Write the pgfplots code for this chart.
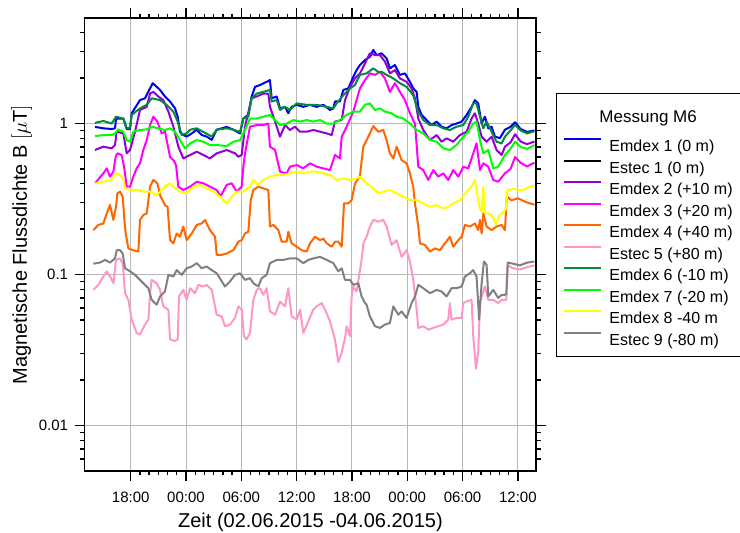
\documentclass[border=0pt]{standalone}
\usepackage{fontspec}
\setmainfont{Liberation Sans}
\usepackage{pgfplots}
\pgfplotsset{compat=1.18}
\usepackage{pgfplotstable}
\definecolor{cBlue}{RGB}{0,0,240}
\definecolor{cPurple}{RGB}{148,0,211}
\definecolor{cMagenta}{RGB}{255,0,255}
\definecolor{cOrange}{RGB}{255,102,0}
\definecolor{cPink}{RGB}{255,150,200}
\definecolor{cGreen}{RGB}{0,140,60}
\definecolor{cLime}{RGB}{0,255,0}
\definecolor{cYellow}{RGB}{255,255,0}
\definecolor{cGray}{RGB}{128,128,128}
\newcommand\ls{\rule{0pt}{16pt}}

\pgfplotstableread{
h v
14.13 0.95
15.04 0.93
15.94 0.92
16.30 0.93
16.41 1.08
17.20 1.08
17.57 0.92
17.93 0.92
18.11 1.17
19.01 1.43
19.55 1.47
20.10 1.71
20.39 1.85
20.82 1.75
21.18 1.67
21.72 1.51
22.27 1.40
22.81 1.26
23.10 1.11
23.35 0.88
23.71 0.84
24.07 0.82
24.62 0.86
25.16 0.91
25.70 0.84
26.24 0.82
26.79 0.78
27.33 0.91
28.41 0.95
29.14 0.91
29.86 0.86
30.22 1.08
30.76 1.14
31.12 1.51
31.49 1.75
32.03 1.80
32.75 1.89
33.11 1.94
33.29 1.47
33.84 1.51
34.20 1.26
34.74 1.29
35.10 1.17
35.46 1.29
36.01 1.33
36.73 1.29
37.45 1.33
38.17 1.29
38.90 1.33
39.62 1.23
39.98 1.26
40.16 1.40
40.70 1.40
41.07 1.67
41.61 1.71
42.15 2.04
42.51 2.26
42.87 2.44
43.41 2.63
43.95 2.77
44.32 3.07
44.68 2.84
45.22 2.92
45.76 2.70
46.12 2.32
46.67 2.44
47.21 2.10
47.75 2.15
48.29 1.89
48.65 1.71
49.02 1.62
49.20 1.29
49.56 1.14
50.10 1.055
50.64 0.977
51.19 1.03
51.73 0.953
52.27 0.929
52.81 0.977
53.35 1.00
53.90 1.03
54.44 1.14
54.98 1.29
55.34 1.43
55.70 1.36
56.07 1.00
56.43 1.11
56.79 0.929
57.15 0.953
57.51 0.82
58.05 0.80
58.60 0.91
59.20 0.95
59.70 1.02
60.30 0.92
61.00 0.88
61.80 0.90
}\tBlue

\pgfplotstableread{
h v
14.13 1.01
15.04 1.04
15.94 1.00
16.41 1.11
17.20 1.08
17.57 0.93
17.93 0.94
18.11 1.14
19.01 1.26
19.74 1.33
20.28 1.47
21.18 1.43
21.90 1.33
22.63 1.20
23.10 1.03
23.53 0.84
24.07 0.86
24.44 0.91
25.16 0.93
25.88 0.88
26.79 0.82
27.33 0.91
28.41 0.93
29.14 0.91
29.86 0.88
30.22 1.08
30.76 1.11
31.12 1.47
31.67 1.58
32.39 1.62
33.11 1.67
33.29 1.40
33.84 1.43
34.20 1.23
34.74 1.29
35.28 1.23
36.01 1.36
37.09 1.33
38.17 1.33
39.26 1.29
39.98 1.26
40.34 1.36
41.07 1.54
41.79 1.71
42.33 1.80
42.87 2.10
43.59 2.15
44.32 2.32
44.86 2.20
45.22 2.20
45.76 2.10
46.49 1.99
47.21 1.85
47.93 1.75
48.65 1.54
49.20 1.20
49.74 1.055
50.46 0.977
51.19 0.977
51.91 0.929
52.63 0.906
53.35 0.953
54.08 0.977
54.62 1.11
55.16 1.36
55.52 1.36
55.89 1.11
56.25 0.929
56.61 1.03
57.15 0.883
57.69 0.758
58.24 0.739
58.60 0.818
59.20 0.90
59.70 0.98
60.30 0.90
61.00 0.86
61.80 0.89
}\tGreen

\pgfplotstableread{
h v
14.13 0.668
15.04 0.703
15.94 0.685
16.30 0.721
16.48 0.883
17.20 0.861
17.57 0.635
17.93 0.668
18.47 0.883
19.01 1.23
19.74 1.29
20.10 1.58
20.46 1.62
21.00 1.51
21.54 1.43
22.09 1.20
22.63 0.953
23.17 0.703
23.71 0.588
24.44 0.619
25.16 0.651
25.88 0.619
26.60 0.588
27.33 0.635
28.41 0.668
29.32 0.635
29.68 0.603
30.04 0.619
30.40 0.953
31.12 1.47
31.67 1.51
32.39 1.58
32.93 1.58
33.11 1.29
33.66 1.03
34.20 0.818
34.74 0.977
35.28 0.906
35.82 0.953
36.37 0.883
37.09 0.883
37.81 0.906
38.54 0.883
39.26 0.861
39.80 0.839
40.16 1.03
40.89 1.055
41.25 1.43
41.79 1.75
42.33 1.99
42.87 2.15
43.41 2.50
43.95 2.92
44.50 2.84
45.04 2.84
45.58 2.57
46.12 2.15
46.67 2.26
47.21 1.99
47.93 1.89
48.47 1.71
48.84 1.47
49.20 1.08
49.74 0.906
50.46 0.778
51.19 0.839
51.73 0.758
52.27 0.798
52.99 0.758
53.72 0.839
54.44 0.883
54.98 1.08
55.34 1.17
55.70 1.00
56.07 0.818
56.61 0.758
57.15 0.818
57.69 0.668
58.24 0.619
58.60 0.703
59.20 0.75
59.70 0.85
60.30 0.76
61.00 0.73
61.80 0.76
}\tPurple

\pgfplotstableread{
h v
14.13 0.826
15.04 0.839
15.94 0.839
16.30 0.861
16.66 0.915
17.20 0.883
17.57 0.778
17.93 0.758
18.29 0.883
19.01 0.906
19.74 0.915
20.28 0.953
21.00 0.929
21.72 0.906
22.27 0.929
22.81 0.883
23.35 0.778
23.89 0.685
24.44 0.739
25.16 0.778
25.88 0.758
26.60 0.721
27.33 0.721
28.41 0.71
29.14 0.758
29.86 0.778
30.40 0.906
30.94 1.08
31.67 1.08
32.39 1.11
33.11 1.14
33.66 1.055
34.20 0.977
34.92 1.00
35.64 1.055
36.37 1.03
37.09 1.055
37.81 1.03
38.54 1.055
39.26 1.00
39.98 1.00
40.70 1.055
41.43 1.14
42.15 1.20
42.87 1.20
43.41 1.33
43.95 1.36
44.50 1.23
45.04 1.26
45.58 1.20
46.30 1.17
46.85 1.11
47.57 1.08
48.29 1.00
49.02 0.906
49.74 0.861
50.46 0.778
51.19 0.758
51.91 0.685
52.63 0.668
53.35 0.721
54.08 0.818
54.62 0.883
55.16 1.00
55.52 1.03
55.89 0.778
56.25 0.635
56.79 0.668
57.33 0.505
57.87 0.518
58.60 0.619
59.20 0.68
59.70 0.76
60.30 0.70
61.00 0.68
61.80 0.72
}\tLime

\pgfplotstableread{
h v
14.13 0.402
15.04 0.468
15.40 0.505
15.76 0.445
16.12 0.48
16.37 0.603
16.55 0.635
17.02 0.619
17.28 0.518
17.57 0.382
17.93 0.382
18.29 0.445
18.65 0.505
19.01 0.545
19.37 0.668
19.74 0.778
20.10 0.977
20.46 1.11
20.89 1.03
21.36 0.861
21.72 0.883
22.27 0.603
22.63 0.573
22.92 0.531
23.17 0.382
23.71 0.363
24.44 0.382
25.16 0.412
25.88 0.402
26.60 0.382
27.33 0.363
27.75 0.33
28.41 0.392
28.96 0.402
29.50 0.354
30.04 0.382
30.22 0.518
30.40 0.635
30.94 0.953
31.67 0.977
32.39 0.977
32.93 1.00
33.11 0.703
33.66 0.668
34.20 0.48
34.92 0.468
35.28 0.518
36.01 0.531
36.73 0.505
37.45 0.545
38.17 0.518
38.90 0.505
39.62 0.492
40.16 0.619
40.70 0.588
40.89 0.818
41.43 0.953
42.15 1.20
42.87 1.71
43.41 1.94
43.95 2.15
44.50 2.10
45.04 2.20
45.58 1.99
46.12 1.62
46.67 1.85
47.21 1.62
47.75 1.43
48.29 1.17
48.84 1.00
49.20 0.518
49.74 0.492
50.28 0.423
50.82 0.492
51.37 0.445
51.91 0.468
52.45 0.423
52.99 0.492
53.54 0.445
54.08 0.518
54.62 0.505
55.16 0.635
55.52 0.739
55.89 0.492
56.25 0.545
56.79 0.518
57.33 0.423
57.87 0.412
58.60 0.468
59.20 0.50
59.70 0.60
60.30 0.55
61.00 0.52
61.80 0.55
}\tMagenta

\pgfplotstableread{
h v
14.13 0.402
15.04 0.412
15.94 0.423
16.37 0.468
16.84 0.456
17.20 0.423
17.39 0.372
17.93 0.363
18.65 0.363
19.37 0.354
20.10 0.354
20.82 0.336
21.36 0.363
21.90 0.392
22.27 0.402
22.63 0.382
23.35 0.354
24.07 0.345
24.80 0.382
25.52 0.392
26.24 0.372
26.97 0.354
27.69 0.328
28.41 0.296
28.96 0.328
29.50 0.354
30.22 0.354
30.94 0.382
31.31 0.423
31.85 0.392
32.39 0.423
33.11 0.445
33.84 0.456
34.56 0.456
35.28 0.468
36.01 0.48
36.73 0.468
37.45 0.48
38.17 0.48
38.90 0.468
39.62 0.456
40.34 0.423
41.07 0.434
41.79 0.423
42.51 0.434
42.87 0.445
43.59 0.402
44.32 0.372
44.86 0.345
45.40 0.354
46.12 0.363
46.85 0.345
47.57 0.328
48.29 0.311
49.02 0.311
49.74 0.296
50.46 0.281
51.19 0.288
51.91 0.274
52.45 0.281
52.99 0.296
53.72 0.311
54.44 0.354
54.98 0.382
55.34 0.423
55.70 0.311
55.89 0.27
56.07 0.26
56.25 0.38
56.43 0.254
56.79 0.254
57.33 0.24
57.60 0.215
58.05 0.25
58.45 0.26
58.70 0.27
58.85 0.36
59.50 0.37
60.50 0.36
61.20 0.38
61.80 0.39
}\tYellow

\pgfplotstableread{
h v
13.95 0.197
14.49 0.213
15.04 0.218
15.40 0.254
15.76 0.289
16.12 0.230
16.41 0.281
16.55 0.345
16.84 0.354
17.13 0.328
17.32 0.23
17.46 0.187
17.75 0.149
18.29 0.145
18.83 0.142
19.01 0.230
19.37 0.248
19.74 0.254
20.10 0.382
20.46 0.423
20.89 0.402
21.18 0.336
21.72 0.288
22.00 0.281
22.27 0.169
22.63 0.161
22.99 0.187
23.35 0.178
23.71 0.208
24.07 0.169
24.62 0.187
25.16 0.213
25.70 0.218
26.06 0.230
26.60 0.197
27.15 0.178
27.33 0.135
27.87 0.135
28.41 0.138
29.14 0.145
29.68 0.165
30.04 0.169
30.40 0.187
30.76 0.192
31.02 0.311
31.31 0.363
31.85 0.382
32.39 0.372
32.93 0.363
33.11 0.208
33.48 0.213
34.02 0.197
34.38 0.165
34.92 0.165
35.10 0.192
35.46 0.161
36.01 0.153
36.55 0.145
37.09 0.142
37.45 0.161
37.99 0.178
38.54 0.169
38.90 0.173
39.26 0.161
39.80 0.153
40.16 0.165
40.52 0.165
40.89 0.153
41.14 0.296
41.61 0.296
41.97 0.311
42.33 0.40
42.87 0.45
43.23 0.70
43.77 0.818
44.32 0.962
44.86 0.883
45.40 0.906
45.76 0.778
46.12 0.635
46.49 0.588
46.85 0.703
47.39 0.573
47.93 0.545
48.29 0.468
48.65 0.382
48.84 0.296
49.20 0.208
49.38 0.161
49.92 0.157
50.46 0.142
51.00 0.149
51.55 0.145
52.09 0.161
52.63 0.178
52.99 0.153
53.54 0.169
53.90 0.178
54.26 0.213
54.80 0.208
55.34 0.218
55.70 0.197
55.89 0.23
56.07 0.187
56.25 0.254
56.61 0.208
57.15 0.197
57.69 0.208
58.24 0.213
58.60 0.197
58.80 0.33
59.30 0.31
60.00 0.32
61.00 0.30
61.80 0.29
}\tOrange

\pgfplotstableread{
h v
13.95 0.118
14.67 0.12
15.22 0.125
15.76 0.12
16.30 0.128
16.48 0.145
16.84 0.145
17.13 0.138
17.39 0.110
17.93 0.105
18.47 0.0995
19.01 0.0922
19.55 0.0854
19.92 0.0812
20.28 0.068
20.82 0.0631
21.18 0.0716
21.72 0.0772
22.09 0.0995
22.63 0.0971
22.99 0.107
23.53 0.0995
24.07 0.110
24.62 0.113
25.16 0.119
25.70 0.110
26.24 0.113
26.79 0.107
27.33 0.102
28.23 0.0833
28.77 0.090
29.32 0.0995
29.86 0.102
30.40 0.0922
30.94 0.0946
31.31 0.0876
31.85 0.0833
32.21 0.0946
32.75 0.0995
33.11 0.119
33.84 0.125
34.56 0.125
35.28 0.128
36.01 0.128
36.73 0.119
37.27 0.125
37.81 0.128
38.54 0.131
39.26 0.125
39.98 0.119
40.52 0.105
40.89 0.110
41.25 0.0922
41.79 0.0922
42.15 0.0854
42.69 0.0876
43.05 0.0716
43.42 0.0647
43.59 0.0631
43.95 0.0529
44.50 0.0455
45.04 0.0443
45.58 0.0466
46.12 0.0478
46.49 0.0615
47.03 0.0542
47.39 0.057
47.93 0.0516
48.47 0.0647
48.84 0.0716
49.20 0.0854
49.74 0.0812
50.46 0.0753
51.19 0.0792
51.73 0.0772
52.27 0.0716
52.81 0.0812
53.35 0.0812
53.90 0.0833
54.26 0.0971
54.80 0.102
55.16 0.107
55.52 0.0971
55.80 0.0503
56.07 0.0876
56.32 0.122
56.61 0.116
56.79 0.0716
57.33 0.0792
57.87 0.07
58.24 0.0734
58.60 0.0734
58.75 0.075
58.90 0.12
59.50 0.118
60.20 0.115
61.00 0.12
61.80 0.122
}\tGray

\pgfplotstableread{
h v
13.95 0.0792
14.49 0.0854
15.04 0.0971
15.40 0.105
15.76 0.0971
16.12 0.0876
16.41 0.125
16.84 0.128
17.13 0.119
17.39 0.0753
17.75 0.068
18.11 0.0503
18.65 0.0411
19.01 0.0401
19.55 0.0466
19.92 0.0503
20.10 0.0753
20.28 0.0922
20.82 0.0876
21.18 0.0792
21.54 0.0615
22.09 0.0585
22.27 0.0372
22.81 0.0363
23.10 0.0372
23.24 0.0716
23.71 0.0792
24.07 0.068
24.44 0.0812
24.98 0.0753
25.34 0.0854
25.88 0.0833
26.24 0.0854
26.79 0.0792
27.33 0.0542
27.87 0.0529
28.23 0.0455
28.77 0.0466
29.32 0.0516
29.68 0.0615
30.04 0.0585
30.29 0.0391
30.58 0.0372
30.94 0.0411
31.31 0.068
31.67 0.0792
32.03 0.0812
32.39 0.0734
32.75 0.0812
33.11 0.057
33.66 0.0542
34.20 0.0663
34.74 0.0615
35.10 0.0812
35.46 0.0529
36.01 0.0503
36.37 0.0585
36.73 0.0411
37.27 0.049
37.81 0.0585
38.17 0.0615
38.72 0.0647
39.08 0.0585
39.62 0.049
40.16 0.0372
40.52 0.0263
40.89 0.0303
41.25 0.0381
41.43 0.0455
41.79 0.0391
41.97 0.0716
42.15 0.0833
42.51 0.0772
43.05 0.125
43.24 0.161
43.59 0.178
43.95 0.208
44.32 0.23
44.86 0.224
45.40 0.23
45.76 0.208
46.30 0.157
46.85 0.169
47.39 0.131
47.93 0.145
48.29 0.122
48.65 0.0922
49.02 0.0585
49.20 0.0443
49.74 0.0455
50.28 0.0432
50.82 0.0443
51.37 0.0455
51.91 0.0466
52.45 0.0503
52.63 0.0647
52.81 0.0503
53.35 0.0516
53.90 0.0516
54.08 0.0647
54.44 0.0663
54.98 0.068
55.16 0.0391
55.45 0.0238
55.70 0.0303
55.89 0.0647
56.07 0.0716
56.43 0.0833
56.79 0.068
57.33 0.068
57.87 0.0647
58.24 0.068
58.75 0.068
58.90 0.115
59.50 0.11
60.20 0.108
61.00 0.112
61.80 0.115
}\tPink

\begin{document}
\begin{tikzpicture}[x=1pt,y=1pt]
\useasboundingbox (-84.6,-62) rectangle (655.4,471);
\begin{axis}[
  at={(0,0)}, anchor=south west,
  scale only axis, width=451.7pt, height=453pt,
  xmin=13, xmax=62,
  ymode=log, ymin=0.005, ymax=5,
  xtick={18,24,30,36,42,48,54,60},
  xticklabels={18:00,00:00,06:00,12:00,18:00,00:00,06:00,12:00},
  minor x tick num=5,
  ytick={0.01,0.1,1}, yticklabels={0.01,0.1,1},
  minor ytick={0.006,0.007,0.008,0.009,0.02,0.03,0.04,0.05,0.06,0.07,0.08,0.09,0.2,0.3,0.4,0.5,0.6,0.7,0.8,0.9,2,3,4},
  tick align=outside,
  major tick length=10pt, minor tick length=4.5pt,
  tick style={black, line width=1.3pt},
  axis line style={black, line width=1.8pt},
  grid=major,
  major grid style={draw=black!28, line width=0.9pt},
  tick label style={font=\fontsize{15}{18}\selectfont},
  xticklabel shift=8pt,
  yticklabel shift=3pt,
  label style={font=\fontsize{20}{24}\selectfont},
  xlabel style={yshift=-3pt},
  xlabel={Zeit (02.06.2015 -04.06.2015)},
  ylabel={Magnetische Flussdichte B $[\mu\mathrm{T}]$},
  legend cell align=left,
  legend style={at={(1.0436,0.8344)}, anchor=north west, draw=black, line width=1pt,
    font=\fontsize{16}{19}\selectfont, inner xsep=8pt, inner ysep=8pt,
    nodes={inner sep=2pt}, row sep=0pt,
    /tikz/every odd column/.append style={column sep=6pt}},
  legend image code/.code={\fill[#1, draw=none] (0pt,4pt) rectangle (37pt,6.2pt);},
  every axis plot/.append style={line width=2pt, line join=round},
]
\addlegendimage{empty legend}
\addlegendentry{\hspace*{-10pt}\fontsize{17}{20}\selectfont\rule{0pt}{26.5pt}\raisebox{7.5pt}{Messung M6}}
\addplot[cBlue] table[x=h,y=v]{\tBlue};
\addlegendentry{\ls Emdex 1 (0 m)}
\addlegendimage{black}
\addlegendentry{\ls Estec 1 (0 m)}
\addplot[cPurple] table[x=h,y=v]{\tPurple};
\addlegendentry{\ls Emdex 2 (+10 m)}
\addplot[cMagenta] table[x=h,y=v]{\tMagenta};
\addlegendentry{\ls Emdex 3 (+20 m)}
\addplot[cOrange] table[x=h,y=v]{\tOrange};
\addlegendentry{\ls Emdex 4 (+40 m)}
\addplot[cPink] table[x=h,y=v]{\tPink};
\addlegendentry{\ls Estec 5 (+80 m)}
\addplot[cGreen] table[x=h,y=v]{\tGreen};
\addlegendentry{\ls Emdex 6 (-10 m)}
\addplot[cLime] table[x=h,y=v]{\tLime};
\addlegendentry{\ls Emdex 7 (-20 m)}
\addplot[cYellow] table[x=h,y=v]{\tYellow};
\addlegendentry{\ls Emdex 8 -40 m}
\addplot[cGray] table[x=h,y=v]{\tGray};
\addlegendentry{\ls Estec 9 (-80 m)}
\end{axis}
\end{tikzpicture}
\end{document}
